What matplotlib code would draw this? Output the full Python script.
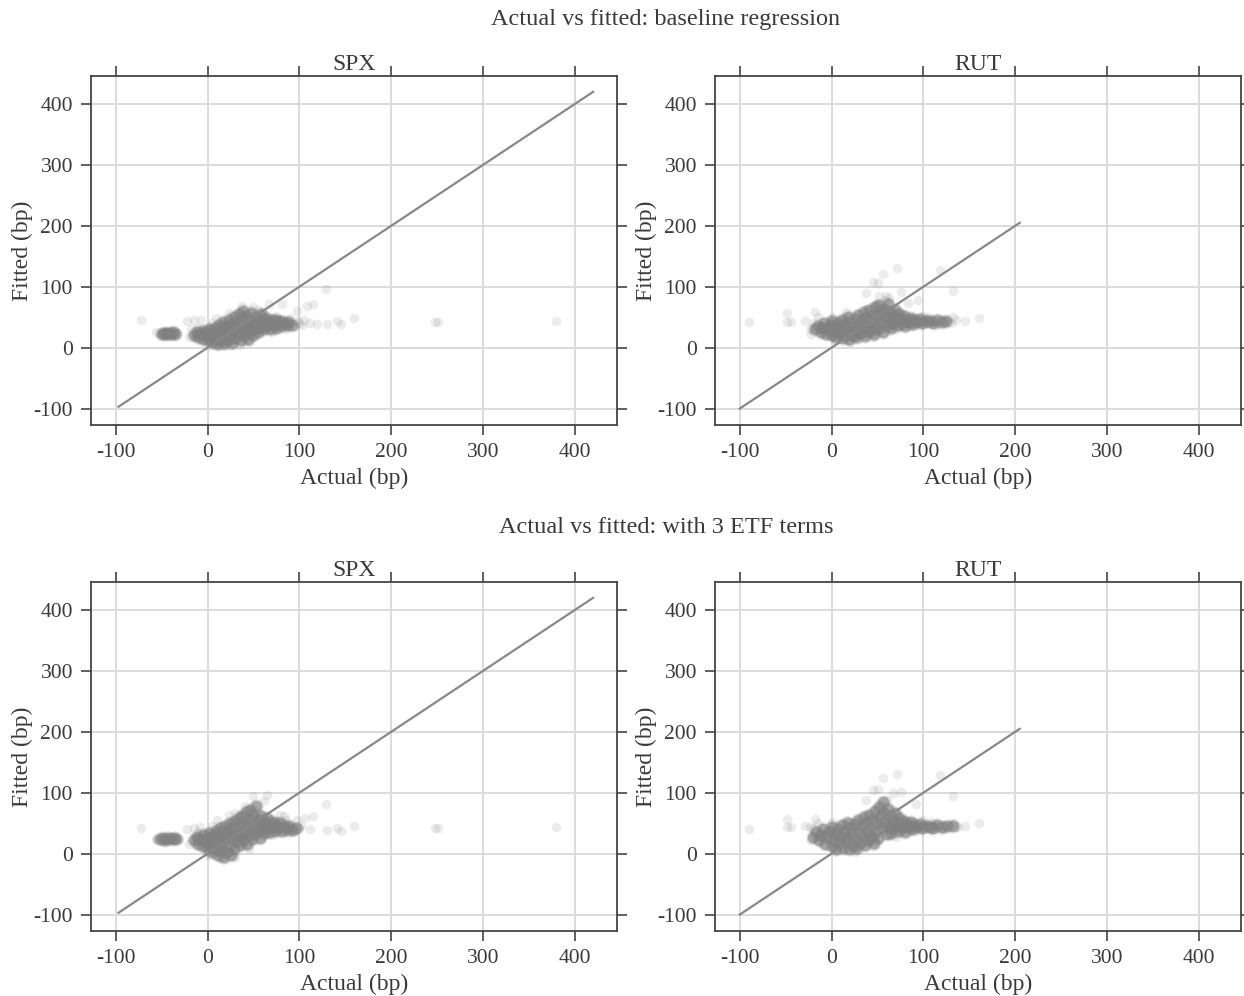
import matplotlib
matplotlib.use("Agg")
import matplotlib.pyplot as plt

plt.rcParams["font.family"] = ["Liberation Serif", "DejaVu Serif"]
plt.rcParams["axes.unicode_minus"] = False

# ---- data (bp) ----
spx_line = [-97, 420]
rut_line = [-100, 205]
axis_lim = [-127, 446]
tick_vals = [-100, 0, 100, 200, 300, 400]

# baseline regression, SPX
spx_base_core = [(-15,20),(-12,25),(-10,17),(-8,22),(-5,28),(-5,15),(-2,20),(0,25),(0,12),(2,30),(3,17),(5,22),(5,9),
    (7,27),(8,33),(8,14),(10,20),(10,6),(12,25),(12,38),(13,11),(15,30),(15,17),(17,42),(18,8),(18,22),(20,35),(20,27),
    (22,13),(23,45),(24,20),(25,31),(26,38),(27,7),(28,25),(29,50),(30,16),(30,42),(32,33),(33,22),(34,55),(35,28),(36,12),
    (37,47),(38,37),(39,60),(40,20),(41,30),(42,52),(43,42),(44,15),(45,35),(46,25),(47,57),(48,45),(50,38),(50,20),(52,30),
    (53,50),(55,42),(55,26),(57,34),(58,55),(60,45),(60,30),(62,38),(64,48),(65,35),(67,42),(68,30),(70,45),(72,38),(74,33),
    (75,46),(77,40),(80,36),(80,44),(83,40),(86,37),(88,42),(92,38),
    (-50,23),(-47,24),(-45,22),(-43,24),(-40,23),(-38,25),(-36,23)]
spx_base_sparse = [(-72,45),(-56,26),(-22,43),(-15,46),(-7,45),(9,49),(23,57),(38,68),(50,66),(67,71),(81,71),(97,60),
    (108,68),(115,71),(129,96),(112,41),(119,39),(130,39),(141,43),(145,39),(159,49),(90,49),(105,45),(248,42),(251,42),
    (380,43),(-20,18),(-18,30),(2,3),(20,2),(35,5),(60,58),(75,52),(95,35),(100,40),(-10,32),(5,40),(15,3),(45,10),
    (55,62),(70,25),(85,30),(98,44),(103,38),(-53,24),(-33,24)]

# baseline regression, RUT
rut_base_core = [(-18,30),(-15,36),(-12,26),(-10,33),(-8,40),(-6,23),(-4,30),(-2,37),(0,20),(0,43),(2,27),(4,34),(5,17),
    (7,40),(8,24),(10,31),(11,46),(12,16),(14,37),(15,23),(17,29),(18,50),(19,15),(20,42),(22,34),(23,21),(25,47),(26,28),
    (27,17),(29,54),(30,38),(31,24),(33,44),(34,31),(35,58),(36,19),(38,50),(39,36),(40,26),(41,62),(42,44),(44,30),(45,54),
    (46,22),(47,67),(48,38),(50,48),(51,30),(52,70),(53,58),(55,42),(56,26),(57,64),(58,52),(60,35),(61,72),(62,46),(64,58),
    (65,32),(66,40),(67,52),(69,62),(70,45),(72,37),(73,55),(75,48),(77,41),(79,52),(80,36),(82,46),(84,42),(86,49),(88,39),
    (90,45),(93,42),(96,47),(99,41),(103,44),(107,43),(111,40),(115,45),(120,42),(125,43)]
rut_base_sparse = [(-90,42),(-49,57),(-49,42),(-44,42),(-29,44),(-18,58),(-15,51),(16,58),(38,90),(45,107),(51,106),
    (56,121),(71,130),(52,84),(59,84),(63,82),(58,78),(76,91),(83,73),(94,78),(118,127),(132,93),(132,51),(145,44),(161,48),
    (110,46),(125,43),(-24,30),(-22,22),(5,12),(30,14),(48,72),(100,52),(130,40),(-20,40),(0,50),(20,10),(45,18),
    (70,30),(90,36),(105,50),(115,38),(135,45)]

# with 3 ETF terms, SPX
spx_etf_core = [(-15,22),(-12,28),(-10,16),(-8,24),(-5,30),(-5,12),(-2,20),(0,27),(0,8),(2,34),(3,15),(5,22),(5,2),(7,30),
    (8,10),(9,38),(10,18),(11,-3),(12,27),(13,42),(14,6),(15,34),(16,14),(17,-5),(18,22),(19,46),(20,30),(21,3),(22,38),
    (23,12),(24,50),(25,25),(26,-2),(27,32),(28,44),(29,8),(30,54),(31,20),(32,36),(33,28),(34,58),(35,14),(36,45),(37,30),
    (38,62),(39,22),(40,50),(41,38),(42,68),(43,16),(44,44),(45,30),(46,72),(47,56),(48,24),(49,40),(50,64),(51,48),(52,32),
    (53,78),(55,55),(56,40),(57,26),(58,62),(60,46),(61,34),(62,54),(64,42),(65,58),(67,36),(68,50),(70,44),(72,52),(73,38),
    (75,47),(77,42),(79,50),(81,38),(83,45),(86,41),(89,46),(92,39),(96,42),
    (-52,24),(-49,25),(-46,23),(-43,25),(-40,24),(-37,25),(-34,24)]
spx_etf_sparse = [(-72,42),(-55,24),(-22,41),(-15,42),(-8,43),(10,56),(23,64),(30,67),(41,78),(50,95),(65,97),(61,86),
    (79,64),(83,61),(97,56),(106,59),(115,61),(129,82),(112,41),(130,39),(141,42),(145,38),(159,45),(94,37),(248,42),
    (251,42),(380,44),(-20,16),(0,-2),(30,-6),(55,70),(85,55),(100,42),(-10,35),(5,45),(20,-8),(45,8),(70,30),
    (88,34),(102,46),(-56,24),(-31,24)]

# with 3 ETF terms, RUT
rut_etf_core = [(-20,28),(-17,35),(-14,22),(-12,31),(-9,40),(-7,16),(-5,27),(-3,36),(0,12),(0,44),(2,22),(4,32),(5,8),
    (7,40),(8,18),(10,28),(11,47),(12,10),(14,36),(15,20),(17,26),(18,50),(19,8),(20,42),(22,32),(23,14),(25,48),(26,24),
    (27,10),(29,55),(30,36),(31,18),(33,44),(34,28),(35,60),(36,14),(38,50),(39,34),(40,22),(41,64),(42,42),(44,28),(45,56),
    (46,18),(47,70),(48,38),(50,50),(51,26),(52,76),(53,60),(55,42),(56,84),(57,66),(58,52),(60,32),(61,74),(62,46),(64,60),
    (65,34),(66,42),(67,54),(69,66),(70,46),(72,38),(73,58),(75,50),(77,42),(79,54),(80,36),(82,48),(84,43),(86,52),(88,40),
    (90,47),(93,43),(96,49),(99,42),(103,46),(107,44),(111,42),(115,47),(120,44),(126,46),(132,45)]
rut_etf_sparse = [(-90,41),(-49,57),(-49,44),(-44,44),(-29,45),(-24,43),(-18,57),(-15,50),(-22,23),(16,56),(38,88),
    (45,105),(51,106),(56,124),(71,130),(67,100),(76,102),(92,81),(118,129),(132,94),(132,51),(145,45),(161,50),(110,48),
    (125,45),(5,4),(30,6),(60,88),(100,56),(138,44),(-20,42),(0,52),(25,3),(45,12),(70,28),(90,38),(108,52),(120,39)]

panels = [
    ("Actual vs fitted: baseline regression", [("SPX", spx_base_core, spx_base_sparse, spx_line),
                                               ("RUT", rut_base_core, rut_base_sparse, rut_line)]),
    ("Actual vs fitted: with 3 ETF terms", [("SPX", spx_etf_core, spx_etf_sparse, spx_line),
                                            ("RUT", rut_etf_core, rut_etf_sparse, rut_line)]),
]

W, H = 1244, 996
fig = plt.figure(figsize=(W / 100, H / 100), dpi=100)

text_col = "#3a3a3a"
pt_col = "#808080"
row_tops = [76, 582]
col_lefts = [91, 715]
ax_w, ax_h = 526, 349
title_y = [20, 527]

for r, (sup, items) in enumerate(panels):
    fig.text(666 / W, 1 - title_y[r] / H, sup, ha="center", va="center", fontsize=17.5, color=text_col)
    for c, (name, core, sparse, line) in enumerate(items):
        ax = fig.add_axes([col_lefts[c] / W, 1 - (row_tops[r] + ax_h) / H, ax_w / W, ax_h / H])
        ax.grid(True, color="#dcdcdc", lw=1.4, zorder=0)
        ax.set_axisbelow(True)
        xs = [p[0] for p in sparse]
        ys = [p[1] for p in sparse]
        ax.scatter(xs, ys, s=48, color=pt_col, alpha=0.15, linewidths=0, zorder=2)
        xs = [p[0] for p in core]
        ys = [p[1] for p in core]
        # halo then body, the dense middle of the cloud
        ax.scatter(xs, ys, s=110, color=pt_col, alpha=0.2, linewidths=0, zorder=2)
        ax.scatter(xs, ys, s=70, color=pt_col, alpha=0.6, linewidths=0, zorder=2)
        ax.plot(line, line, color="#888888", lw=1.6, zorder=3)
        ax.set_xlim(axis_lim)
        ax.set_ylim(axis_lim)
        ax.set_xticks(tick_vals)
        ax.set_yticks(tick_vals)
        ax.tick_params(which="both", direction="out", length=7, width=1.2, color="#444444",
                       top=True, right=True, labelsize=15.5, labelcolor=text_col, pad=6)
        for sp in ax.spines.values():
            sp.set_color("#444444")
            sp.set_linewidth(1.3)
        ax.set_xlabel("Actual (bp)", fontsize=17, color=text_col, labelpad=4)
        ax.set_ylabel("Fitted (bp)", fontsize=17, color=text_col, labelpad=0)
        ax.set_title(name, fontsize=17, color=text_col, pad=4)

fig.savefig("out.png", dpi=100)
